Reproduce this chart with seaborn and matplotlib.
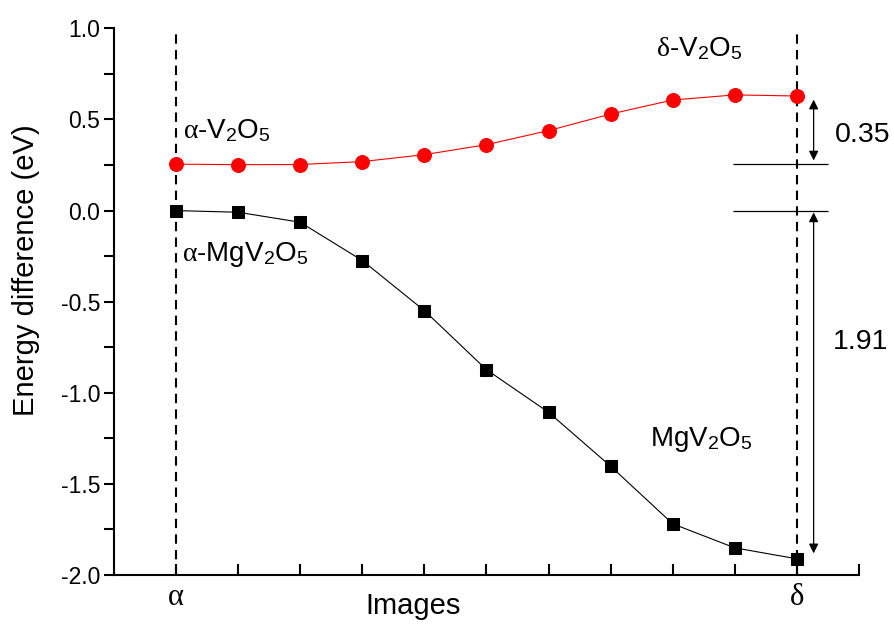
import numpy as np
import pandas as pd
import matplotlib
matplotlib.use("Agg")
import matplotlib.pyplot as plt
import seaborn as sns

# ── Data ─────────────────────────────────────────────────────────────────────
images = list(range(11))
v2o5 = [0.255, 0.252, 0.253, 0.269, 0.307, 0.362, 0.439, 0.530, 0.607, 0.635, 0.629]
mgv2o5 = [0.0, -0.009, -0.064, -0.274, -0.549, -0.873, -1.107, -1.403, -1.719, -1.851, -1.911]
xtick_pos = list(range(12))
xtick_labels = ["$\\alpha$", "", "", "", "", "", "", "", "", "", "$\\delta$", ""]
ytick_pos = [-2.0, -1.5, -1.0, -0.5, 0.0, 0.5, 1.0]
gap_top = "0.35"
gap_bottom = "1.91"

sns.set_theme(style="ticks")
plt.rcParams["font.family"] = ["Liberation Sans", "DejaVu Sans"]
plt.rcParams["mathtext.fontset"] = "custom"
plt.rcParams["mathtext.rm"] = "Liberation Sans"
plt.rcParams["mathtext.it"] = "Liberation Serif"
plt.rcParams["text.color"] = "black"
plt.rcParams["axes.labelcolor"] = "black"

df = pd.DataFrame({"image": images, "v2o5": v2o5, "mgv2o5": mgv2o5})

fig = plt.figure(figsize=(8.94, 6.24), dpi=100)
ax = fig.add_axes([0.1275, 0.0785, 0.8333, 0.876])

# ── Curves ───────────────────────────────────────────────────────────────────
sns.lineplot(data=df, x="image", y="v2o5", ax=ax, color="#ff0000", lw=0.8,
             marker="o", markersize=10, markeredgecolor="#ff0000", zorder=3)
sns.lineplot(data=df, x="image", y="mgv2o5", ax=ax, color="black", lw=0.8,
             marker="s", markersize=9, markeredgecolor="black", zorder=3)

# ── Reference lines ──────────────────────────────────────────────────────────
for xv in (images[0], images[-1]):
    ax.vlines(xv, -2.0, 0.985, colors="black", lw=1.5,
              linestyles=(0, (4.5, 3)), zorder=2)

ax.hlines([v2o5[0], mgv2o5[0]], 8.97, 10.5, colors="black", lw=0.9, zorder=2)

arrow_x = 10.27
ax.annotate("", xy=(arrow_x, v2o5[-1] - 0.02), xytext=(arrow_x, v2o5[0] + 0.02),
            arrowprops=dict(arrowstyle="<|-|>", color="black", lw=0.9,
                            mutation_scale=14, shrinkA=0, shrinkB=0))
ax.annotate("", xy=(arrow_x, mgv2o5[0] - 0.01), xytext=(arrow_x, mgv2o5[-1] + 0.03),
            arrowprops=dict(arrowstyle="<|-|>", color="black", lw=0.9,
                            mutation_scale=14, shrinkA=0, shrinkB=0))

ax.text(10.61, 0.375, gap_top, fontsize=20.5, ha="left", va="baseline")
ax.text(10.58, -0.76, gap_bottom, fontsize=20.5, ha="left", va="baseline")

# ── Phase labels ─────────────────────────────────────────────────────────────
lab = dict(fontsize=20, ha="left", va="baseline")
ax.text(0.11, 0.40, "$\\alpha$-V$_{\\mathregular{2}}$O$_{\\mathregular{5}}$", **lab)
ax.text(0.09, -0.275, "$\\alpha$-MgV$_{\\mathregular{2}}$O$_{\\mathregular{5}}$", **lab)
ax.text(7.73, 0.85, "$\\delta$-V$_{\\mathregular{2}}$O$_{\\mathregular{5}}$", **lab)
ax.text(7.63, -1.29, "MgV$_{\\mathregular{2}}$O$_{\\mathregular{5}}$", **lab)

# ── Axes styling ─────────────────────────────────────────────────────────────
ax.set_xlim(-1, 11)
ax.set_ylim(-2.0, 1.0)
ax.set_xticks(xtick_pos)
ax.set_xticklabels(xtick_labels)
ax.set_yticks(ytick_pos)
ax.set_yticklabels([f"{v:.1f}" for v in ytick_pos])
ax.set_yticks(np.arange(-1.75, 1.0, 0.5), minor=True)

ax.tick_params(axis="x", direction="in", length=8, width=1.5, pad=5,
               labelsize=22, colors="black")
ax.tick_params(axis="y", which="both", direction="out", length=7, width=1.5,
               pad=3, labelsize=16.5, colors="black")

for side in ("top", "right"):
    ax.spines[side].set_visible(False)
for side in ("left", "bottom"):
    ax.spines[side].set_linewidth(1.5)
    ax.spines[side].set_color("black")

ax.set_xlabel("Images", fontsize=21)
ax.set_ylabel("Energy difference (eV)", fontsize=21)
ax.xaxis.set_label_coords(0.401, -0.031)
ax.yaxis.set_label_coords(-0.099, 0.558)

fig.savefig("out.png", dpi=100)
